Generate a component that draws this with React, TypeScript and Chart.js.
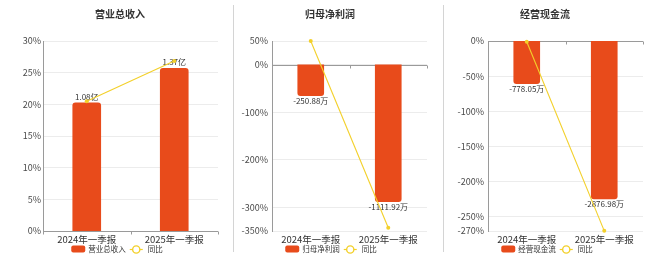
import React, { useEffect, useRef } from 'react';
import { Chart, registerables } from 'chart.js';

Chart.register(...registerables);

// ---------- data ----------
const categories = ['2024年一季报', '2025年一季报'];

const revenueTitle = '营业总收入';
const revenueValues = [1.08, 1.37]; // 亿
const revenueYoY = [20.5, 26.85]; // %
const revenueTicks = [0, 5, 10, 15, 20, 25, 30];

const profitTitle = '归母净利润';
const profitValues = [-250.88, -1111.92]; // 万
const profitYoY = [50, -343.2]; // %
const profitTicks = [50, 0, -100, -200, -300, -350];

const cashTitle = '经营现金流';
const cashValues = [-778.05, -2876.98]; // 万
const cashYoY = [-1, -269.8]; // %
const cashTicks = [0, -50, -100, -150, -200, -250, -270];

const yoyLabel = '同比';

// ---------- styles ----------
const FONT = '"Noto Sans CJK SC", "Noto Sans", sans-serif';
const BAR = '#E84B1B';
const LINE = '#F3D02A';
const AXIS = '#9a9a9a';
const GRID = '#ececec';
const TEXT = '#333333';
const TICK = '#4a4a4a';
const W = 660;
const H = 257;

type PanelCfg = {
  title: string;
  values: number[];
  yoy: number[];
  ticks: number[];
  unit: string;
  barMin: number;
  barMax: number;
  left: number;
  axisX: number;
  right: number;
  titleX: number;
  legendX: number;
  barThickness: number;
  tickPad: number;
};

const panels: PanelCfg[] = [
  {
    title: revenueTitle, values: revenueValues, yoy: revenueYoY, ticks: revenueTicks, unit: '亿',
    barMin: 0, barMax: 1.6, left: 0, axisX: 43, right: 218, titleX: 120, legendX: 117,
    barThickness: 28, tickPad: 2,
  },
  {
    title: profitTitle, values: profitValues, yoy: profitYoY, ticks: profitTicks, unit: '万',
    barMin: -1350, barMax: 193, left: 233, axisX: 272, right: 427, titleX: 330, legendX: 331,
    barThickness: 26, tickPad: 4,
  },
  {
    title: cashTitle, values: cashValues, yoy: cashYoY, ticks: cashTicks, unit: '万',
    barMin: -3460, barMax: 0, left: 443, axisX: 488, right: 643, titleX: 545, legendX: 547,
    barThickness: 26, tickPad: 4,
  },
];

function makePlugin(cfg: PanelCfg) {
  return {
    id: 'panelDecor',
    beforeDatasetsDraw(chart: any) {
      const { ctx, chartArea } = chart;
      const y0 = Math.round(chart.scales.y.getPixelForValue(0)) + 0.5;
      ctx.save();
      ctx.strokeStyle = AXIS;
      ctx.lineWidth = 1;
      ctx.beginPath();
      ctx.moveTo(chartArea.left, y0);
      ctx.lineTo(chartArea.right, y0);
      const n = categories.length;
      for (let i = 0; i <= n; i++) {
        const x = Math.round(chartArea.left + ((chartArea.right - chartArea.left) * i) / n) + 0.5;
        ctx.moveTo(x, y0);
        ctx.lineTo(x, y0 + 3);
      }
      ctx.stroke();
      ctx.restore();
    },
    afterDatasetDraw(chart: any, args: any) {
      if (args.index !== 0) return;
      const { ctx } = chart;
      const meta = chart.getDatasetMeta(0);
      ctx.save();
      ctx.font = `8px ${FONT}`;
      ctx.fillStyle = TEXT;
      ctx.textAlign = 'center';
      meta.data.forEach((el: any, i: number) => {
        const v = cfg.values[i];
        const txt = `${v.toFixed(2)}${cfg.unit}`;
        if (v >= 0) {
          ctx.textBaseline = 'bottom';
          ctx.fillText(txt, el.x, el.y - 2);
        } else {
          ctx.textBaseline = 'top';
          ctx.fillText(txt, el.x, el.y + 1);
        }
      });
      ctx.restore();
    },
    afterDraw(chart: any) {
      const { ctx } = chart;
      ctx.save();
      // title
      ctx.font = `bold 10px ${FONT}`;
      ctx.fillStyle = TEXT;
      ctx.textAlign = 'center';
      ctx.textBaseline = 'middle';
      ctx.fillText(cfg.title, cfg.titleX, 14);
      // legend
      ctx.font = `7.5px ${FONT}`;
      const t1 = cfg.title;
      const w1 = ctx.measureText(t1).width;
      const w2 = ctx.measureText(yoyLabel).width;
      const rectW = 14, rectH = 7, lineW = 13;
      const total = rectW + 3 + w1 + 4 + lineW + 5 + w2;
      let x = cfg.legendX - total / 2;
      const yc = 249;
      ctx.fillStyle = BAR;
      ctx.beginPath();
      (ctx as any).roundRect(x, yc - rectH / 2, rectW, rectH, 2);
      ctx.fill();
      x += rectW + 3;
      ctx.fillStyle = TEXT;
      ctx.textAlign = 'left';
      ctx.fillText(t1, x, yc);
      x += w1 + 4;
      ctx.strokeStyle = LINE;
      ctx.lineWidth = 1.2;
      ctx.beginPath();
      ctx.moveTo(x, yc + 0.5);
      ctx.lineTo(x + lineW, yc + 0.5);
      ctx.stroke();
      ctx.beginPath();
      ctx.arc(x + lineW / 2, yc + 0.5, 3.6, 0, Math.PI * 2);
      ctx.fillStyle = '#ffffff';
      ctx.fill();
      ctx.lineWidth = 1.4;
      ctx.stroke();
      x += lineW + 5;
      ctx.fillStyle = TEXT;
      ctx.fillText(yoyLabel, x, yc);
      ctx.restore();
    },
  };
}

function Panel({ cfg }: { cfg: PanelCfg }) {
  const ref = useRef<HTMLCanvasElement | null>(null);
  useEffect(() => {
    if (!ref.current) return;
    const tMin = Math.min(...cfg.ticks);
    const tMax = Math.max(...cfg.ticks);
    const chart = new Chart(ref.current, {
      type: 'bar',
      data: {
        labels: categories,
        datasets: [
          {
            type: 'bar',
            label: cfg.title,
            data: cfg.values,
            backgroundColor: BAR,
            borderRadius: 3,
            borderSkipped: 'start',
            barThickness: cfg.barThickness,
            yAxisID: 'y1',
            order: 1,
          } as any,
          {
            type: 'line',
            label: yoyLabel,
            data: cfg.yoy,
            borderColor: LINE,
            borderWidth: 1.1,
            backgroundColor: LINE,
            pointRadius: 2,
            pointBorderWidth: 0,
            pointBackgroundColor: LINE,
            clip: false,
            yAxisID: 'y',
            order: 0,
          } as any,
        ],
      },
      options: {
        responsive: false,
        animation: false,
        devicePixelRatio: 1,
        layout: { padding: { left: cfg.left, right: W - cfg.right, top: 41, bottom: 0 } },
        plugins: { legend: { display: false }, tooltip: { enabled: false }, title: { display: false } },
        font: { family: FONT },
        scales: {
          x: {
            offset: true,
            grid: { display: false, drawTicks: false },
            border: { display: false },
            ticks: { font: { family: FONT, size: 9.5 }, color: TEXT, padding: 3, maxRotation: 0 },
            afterFit: (s: any) => { s.height = 26; },
          },
          y: {
            position: 'left',
            min: tMin,
            max: tMax,
            afterBuildTicks: (s: any) => { s.ticks = cfg.ticks.map((v) => ({ value: v })); },
            afterFit: (s: any) => { s.width = cfg.axisX - cfg.left; },
            grid: { color: GRID, drawTicks: false, lineWidth: 1 },
            border: { display: true, color: AXIS, width: 1 },
            ticks: {
              font: { family: FONT, size: 9 },
              color: TICK,
              padding: cfg.tickPad,
              callback: (v: any) => `${v}%`,
            },
          },
          y1: {
            display: false,
            min: cfg.barMin,
            max: cfg.barMax,
          },
        },
      } as any,
      plugins: [makePlugin(cfg) as any],
    });
    return () => chart.destroy();
  }, [cfg]);
  return (
    <canvas
      ref={ref}
      width={W}
      height={H}
      style={{ position: 'absolute', left: 0, top: 0, width: W, height: H }}
    />
  );
}

export default function App() {
  return (
    <div style={{ position: 'absolute', left: 0, top: 0, width: W, height: H, background: '#fff', overflow: 'hidden' }}>
      <div style={{ position: 'absolute', left: 233, top: 5, width: 1, height: 247, background: '#d4d4d4' }} />
      <div style={{ position: 'absolute', left: 443, top: 5, width: 1, height: 247, background: '#d4d4d4' }} />
      {panels.map((p, i) => (
        <Panel key={i} cfg={p} />
      ))}
    </div>
  );
}
